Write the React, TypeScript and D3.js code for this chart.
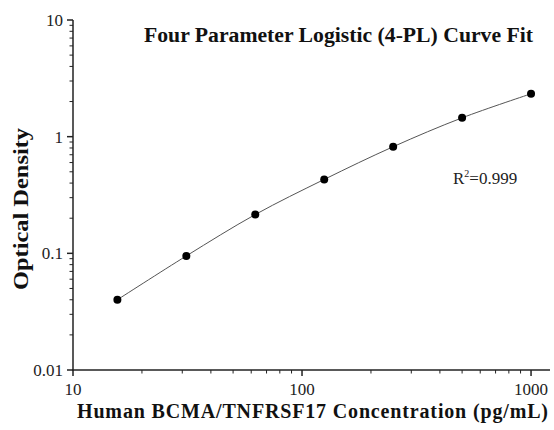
import React from 'react';
import * as d3 from 'd3';

// standard concentrations (pg/mL) and mean OD
const concentrations = [15.625, 31.25, 62.5, 125, 250, 500, 1000];
const opticalDensity = [0.04, 0.095, 0.215, 0.43, 0.82, 1.45, 2.33];

const xTickValues = [10, 100, 1000];
const yTickValues = [0.01, 0.1, 1, 10];
const xTickLabels = ['10', '100', '1000'];
const yTickLabels = ['0.01', '0.1', '1', '10'];

const title = 'Four Parameter Logistic (4-PL) Curve Fit';
const xTitle = 'Human BCMA/TNFRSF17 Concentration (pg/mL)';
const yTitle = 'Optical Density';
const rSquared = '0.999';

const width = 554;
const height = 430;
const serif = '"Liberation Serif", "Times New Roman", serif';

const App = () => {
  const x = d3.scaleLog().domain([10, 1210]).range([73, 550]);
  const y = d3.scaleLog().domain([0.01, 10]).range([370, 20]);

  // minor ticks 2..9 inside each decade
  const minorX: number[] = [];
  for (let d = 10; d < 1000; d *= 10) {
    for (let k = 2; k <= 9; k++) minorX.push(d * k);
  }
  const minorY: number[] = [];
  for (let d = 0.01; d < 9; d *= 10) {
    for (let k = 2; k <= 9; k++) minorY.push(d * k);
  }

  const pts = concentrations.map((c, i) => [c, opticalDensity[i]] as [number, number]);
  const line = d3.line<[number, number]>()
    .x(d => x(d[0]))
    .y(d => y(d[1]))
    .curve(d3.curveCatmullRom.alpha(0.5));

  const axisColor = '#222';
  const x0 = x.range()[0];
  const y0 = y.range()[0];

  return (
    <svg width={width} height={height} style={{ position: 'absolute', left: 0, top: 0, background: '#fff' }}>
      {/* curve + points */}
      <path d={line(pts) || ''} fill="none" stroke="#555" strokeWidth={1} />
      {pts.map((p, i) => (
        <circle key={i} cx={x(p[0])} cy={y(p[1])} r={4} fill="#000" />
      ))}

      {/* y axis */}
      <line x1={x0} x2={x0} y1={y.range()[1]} y2={y0 + 0.75} stroke={axisColor} strokeWidth={1.5} />
      {yTickValues.map(v => (
        <line key={'yt' + v} x1={x0 - 6} x2={x0} y1={y(v)} y2={y(v)} stroke={axisColor} strokeWidth={1.5} />
      ))}
      {minorY.map(v => (
        <line key={'ym' + v} x1={x0 - 3.5} x2={x0} y1={y(v)} y2={y(v)} stroke={axisColor} strokeWidth={1} />
      ))}
      {yTickValues.map((v, i) => (
        <text key={'yl' + v} x={x0 - 10} y={y(v)} dy="0.35em" textAnchor="end"
          fontFamily={serif} fontSize={17} fill="#222">{yTickLabels[i]}</text>
      ))}

      {/* x axis */}
      <line x1={x0 - 0.75} x2={x.range()[1]} y1={y0} y2={y0} stroke={axisColor} strokeWidth={1.5} />
      {xTickValues.map(v => (
        <line key={'xt' + v} x1={x(v)} x2={x(v)} y1={y0} y2={y0 + 6} stroke={axisColor} strokeWidth={1.5} />
      ))}
      {minorX.map(v => (
        <line key={'xm' + v} x1={x(v)} x2={x(v)} y1={y0} y2={y0 + 3.5} stroke={axisColor} strokeWidth={1} />
      ))}
      {xTickValues.map((v, i) => (
        <text key={'xl' + v} x={x(v)} y={395} textAnchor="middle"
          fontFamily={serif} fontSize={17} fill="#222">{xTickLabels[i]}</text>
      ))}

      {/* titles */}
      <text x={144} y={42} fontFamily={serif} fontSize={20} fontWeight="bold" fill="#111"
        textLength={389} lengthAdjust="spacingAndGlyphs">{title}</text>
      <text x={77} y={418} fontFamily={serif} fontSize={20} fontWeight="bold" fill="#111"
        textLength={471} lengthAdjust="spacing">{xTitle}</text>
      <text transform="translate(28,290) rotate(-90)" x={0} y={0} fontFamily={serif} fontSize={21}
        fontWeight="bold" fill="#111" textLength={162} lengthAdjust="spacingAndGlyphs">{yTitle}</text>

      {/* R squared */}
      <text x={453} y={184} fontFamily={serif} fontSize={17} fill="#222">
        R<tspan dy={-7} fontSize={10}>2</tspan><tspan dy={7}>={rSquared}</tspan>
      </text>
    </svg>
  );
};

export default App;
